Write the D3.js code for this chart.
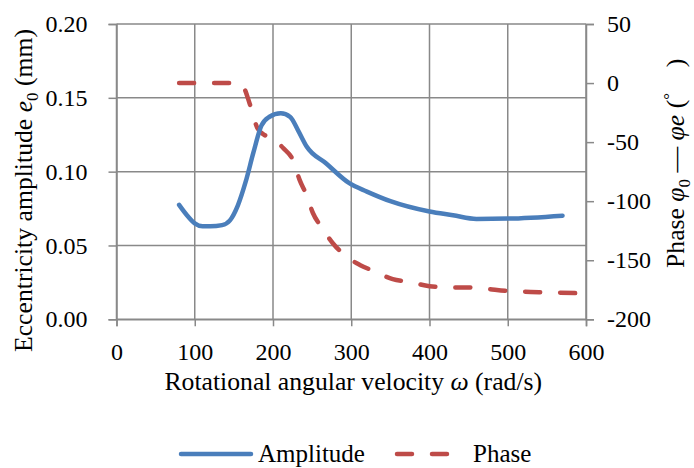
<!DOCTYPE html>
<html>
<head>
<meta charset="utf-8">
<script src="https://cdn.jsdelivr.net/npm/d3@7"></script>
<style>
  body { margin: 0; background: #fff; }
  svg text { font-family: "Liberation Serif", "Times New Roman", serif; fill: #000; }
</style>
</head>
<body>
<svg id="chart" width="694" height="468"></svg>
<script>
// rotational angular velocity (rad/s)
var ampSpeed = [80, 90, 100, 110, 120, 135, 145, 155, 165, 175, 185, 195, 210, 222, 232, 243, 268, 298, 320, 350, 400, 430, 460, 500, 570];
// eccentricity amplitude e0 (mm)
var ampValue = [0.0775, 0.0705, 0.0650, 0.0630, 0.0630, 0.0638, 0.0670, 0.0770, 0.0930, 0.1130, 0.1310, 0.1370, 0.1395, 0.1370, 0.1280, 0.1170, 0.1055, 0.0920, 0.0865, 0.0800, 0.0730, 0.0705, 0.0680, 0.0682, 0.0702];

var phaseSpeed = [80, 120, 155, 162, 170, 180, 188, 197, 213, 226, 234, 243, 251, 262, 277, 292, 311, 328, 353, 375, 400, 425, 450, 470, 500, 540, 600];
// phase (deg)
var phaseValue = [0, 0, 0, -3, -17, -38, -43.5, -46, -55, -66, -82, -95, -110, -122, -136, -146, -154, -159, -166, -168.5, -172, -173, -173, -174, -176, -177, -178];

var xTicks = [0, 100, 200, 300, 400, 500, 600];
var leftTicks = [0, 0.05, 0.10, 0.15, 0.20];
var rightTicks = [-200, -150, -100, -50, 0, 50];

(function() {
    var svg = d3.select('#chart');
    var pLeft = 116.5, pRight = 586, pTop = 24, pBottom = 319.3;

    var x = d3.scaleLinear().domain([0, 600]).range([pLeft, pRight]);
    var yL = d3.scaleLinear().domain([0, 0.2]).range([pBottom, pTop]);
    var yR = d3.scaleLinear().domain([-200, 50]).range([pBottom, pTop]);

    var gridColor = '#898989';

    // grid
    var grid = svg.append('g');
    grid.selectAll('line.v')
        .data(xTicks)
        .enter().append('line')
        .attr('x1', function(d) { return x(d); })
        .attr('x2', function(d) { return x(d); })
        .attr('y1', pTop).attr('y2', pBottom)
        .style('stroke', gridColor).style('stroke-width', 1.5);
    grid.selectAll('line.h')
        .data(leftTicks)
        .enter().append('line')
        .attr('x1', pLeft).attr('x2', pRight)
        .attr('y1', function(d) { return yL(d); })
        .attr('y2', function(d) { return yL(d); })
        .style('stroke', gridColor).style('stroke-width', 1.5);

    // axes
    var axL = svg.append('g').attr('transform', 'translate(' + pLeft + ',0)')
        .call(d3.axisLeft(yL).tickValues(leftTicks).tickFormat(d3.format('.2f')).tickSize(8).tickPadding(21));
    var axR = svg.append('g').attr('transform', 'translate(' + pRight + ',0)')
        .call(d3.axisRight(yR).tickValues(rightTicks).tickSize(8).tickPadding(13));
    var axB = svg.append('g').attr('transform', 'translate(0,' + pBottom + ')')
        .call(d3.axisBottom(x).tickValues(xTicks).tickSize(7).tickPadding(17));

    [axL, axR, axB].forEach(function(ax) {
        ax.select('.domain').style('stroke', gridColor).style('stroke-width', 1.5);
        ax.selectAll('.tick line').style('stroke', gridColor).style('stroke-width', 1.5);
        ax.selectAll('.tick text')
            .style('font-family', '"Liberation Serif", serif')
            .style('font-size', '24px')
            .style('fill', '#000');
    });
    axR.selectAll('.tick text').text(function(d) { return d < 0 ? '-' + Math.abs(d) : d; });

    // lines
    var ampLine = d3.line()
        .x(function(d, i) { return x(ampSpeed[i]); })
        .y(function(d) { return yL(d); })
        .curve(d3.curveMonotoneX);
    var phaseLine = d3.line()
        .x(function(d, i) { return x(phaseSpeed[i]); })
        .y(function(d) { return yR(d); })
        .curve(d3.curveMonotoneX);

    svg.append('path')
        .attr('d', phaseLine(phaseValue))
        .style('fill', 'none')
        .style('stroke', '#be4b48')
        .style('stroke-width', 4.5)
        .style('stroke-linecap', 'round')
        .style('stroke-dasharray', '15,20');

    svg.append('path')
        .attr('d', ampLine(ampValue))
        .style('fill', 'none')
        .style('stroke', '#4a7ebb')
        .style('stroke-width', 4.5)
        .style('stroke-linecap', 'round')
        .style('stroke-linejoin', 'round');

    // axis titles
    svg.append('text')
        .attr('x', (pLeft + pRight) / 2 + 2)
        .attr('y', 390)
        .style('text-anchor', 'middle')
        .style('font-size', '25.7px')
        .html('Rotational angular velocity <tspan font-style="italic">ω</tspan> (rad/s)');

    svg.append('text')
        .attr('transform', 'translate(32,352) rotate(-90)')
        .style('font-size', '25.7px')
        .html('Eccentricity amplitude <tspan font-style="italic">e</tspan><tspan font-size="17px" dy="6">0</tspan><tspan dy="-6"> (mm)</tspan>');

    svg.append('text')
        .attr('transform', 'translate(684,268) rotate(-90)')
        .style('font-size', '25.7px')
        .html('Phase <tspan font-style="italic">φ</tspan><tspan font-size="17px" dy="6">0</tspan><tspan dy="-6"> — </tspan><tspan font-style="italic">φe</tspan> (<tspan font-size="17px" dy="-9">°</tspan><tspan dy="9" xml:space="preserve">    )</tspan>');

    // legend
    var legend = svg.append('g');
    legend.append('line')
        .attr('x1', 181).attr('x2', 251).attr('y1', 454).attr('y2', 454)
        .style('stroke', '#4a7ebb').style('stroke-width', 4.5).style('stroke-linecap', 'round');
    legend.append('text').attr('x', 258).attr('y', 462).style('font-size', '25px').text('Amplitude');
    legend.append('line')
        .attr('x1', 397).attr('x2', 450).attr('y1', 454).attr('y2', 454)
        .style('stroke', '#be4b48').style('stroke-width', 4.5).style('stroke-linecap', 'round')
        .style('stroke-dasharray', '15,20');
    legend.append('text').attr('x', 473).attr('y', 462).style('font-size', '25px').text('Phase');
})();
</script>
</body>
</html>
